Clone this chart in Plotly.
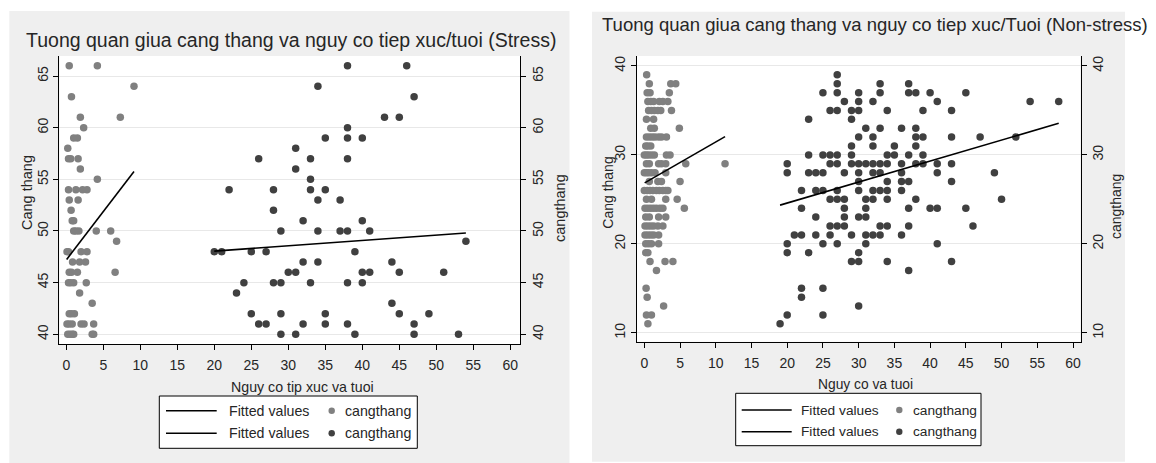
import plotly.graph_objects as go

W, H = 1156, 463

# ---------------- Stress panel ----------------
# y-levels (cangthang) and the exposure/age values observed at each level
stress_a_levels = [66, 64, 63, 61, 60, 59, 58, 57, 56, 55, 54, 53, 52, 51, 50,
                   49, 48, 47, 46, 45, 44, 43, 42, 41, 40]
stress_a_x = [[0.4, 4.2], [9.15], [0.7], [1.9, 7.3], [2.35], [1.0, 1.5], [0.2],
              [0.3, 0.6, 1.6], [1.9], [4.2], [0.3, 1.3, 2.2, 2.8], [0.4, 1.6],
              [0.65], [0.8, 1.0], [1.0, 1.3, 1.7, 4.05, 6.0], [6.8],
              [0.1, 0.3, 2.0, 2.8], [0.85, 1.8, 2.6], [0.4, 0.7, 1.5, 6.6],
              [0.3, 0.6, 1.0, 2.7], [1.8], [3.5], [0.4, 0.7, 1.1],
              [0.1, 0.4, 0.8, 2.0, 2.4, 3.7], [0.2, 0.5, 0.8, 1.0, 3.5, 3.7]]

stress_b_levels = [66, 64, 63, 61, 60, 59, 58, 57, 56, 55, 54, 53, 52, 51, 50,
                   49, 48, 47, 46, 45, 44, 43, 42, 41, 40]
stress_b_x = [[38, 46], [34], [47], [43, 45], [38], [35, 38, 40], [31],
              [26, 33, 38], [31], [33], [22, 28, 33, 35], [34, 37], [28],
              [32, 40], [29, 34, 37, 38, 41], [54], [20, 21, 25, 27, 39],
              [32, 34, 44], [30, 31, 40, 41, 45, 51], [24, 28, 29, 33, 38, 40],
              [23], [44], [25, 29, 35, 45, 49], [26, 27, 32, 35, 38, 47],
              [29, 31, 39, 47, 53]]

stress_a_fit_x = [0.05, 9.15]
stress_a_fit_y = [47.25, 55.75]
stress_b_fit_x = [20, 54]
stress_b_fit_y = [48.05, 49.8]

# ---------------- Non-stress panel ----------------
non_a_levels = [39, 38, 37, 36, 35, 34, 33, 32, 31, 30, 29, 28, 27, 26, 25, 24,
                23, 22, 21, 20, 19, 18, 17, 15, 14, 13, 12, 11]
non_a_x = [[0.33], [0.7, 3.7, 4.4], [0.4, 0.8, 3.5],
           [0.5, 0.9, 1.3, 2.1, 2.6, 3.3], [0.6, 1.0, 1.4, 1.9, 2.3, 3.8],
           [0.3, 1.3], [0.9, 1.4, 4.9], [0.3, 0.7, 1.1, 1.5, 2.0, 2.4, 3.1],
           [0.2, 0.5, 0.9], [0.0, 0.3, 0.6, 1.0, 1.4, 3.1, 3.6],
           [0.3, 0.7, 2.0, 2.4, 3.0, 5.8, 11.3], [0.0, 0.3, 0.6, 1.0, 1.5, 3.0],
           [0.7, 1.9, 2.4, 5.0], [0.0, 0.4, 0.8, 1.2, 1.7, 2.1, 2.6, 3.0, 3.3],
           [0.3, 1.0, 3.0, 4.6], [0.1, 0.5, 0.9, 1.3, 1.7, 2.2, 2.6, 5.6],
           [0.2, 0.7, 2.0, 3.0], [0.1, 0.5, 0.9, 1.3, 1.9, 2.6],
           [0.1, 0.5, 0.9, 1.3, 2.0], [0.2, 0.6, 1.0, 2.0], [0.2, 0.5],
           [0.8, 2.9, 4.0], [1.7], [0.25], [0.4], [2.7], [0.3, 1.0], [0.5]]

non_b_levels = [39, 38, 37, 36, 35, 34, 33, 32, 31, 30, 29, 28, 27, 26, 25, 24,
                23, 22, 21, 20, 19, 18, 17, 15, 14, 13, 12, 11]
non_b_x = [[27], [27, 33, 37], [25, 27, 30, 33, 37, 38, 40, 45],
           [28, 30, 32, 41, 54, 58], [26, 27, 29, 30, 34, 39, 43], [23, 29],
           [31, 33, 36, 38], [30, 32, 38, 39, 43, 47, 52], [29, 32, 35, 38],
           [23, 25, 26, 27, 29, 34, 35, 37, 39],
           [20, 26, 27, 29, 30, 31, 32, 33, 34, 36, 38, 39, 41, 43],
           [20, 23, 24, 25, 28, 30, 32, 33, 36, 41, 49], [30, 34, 36, 37, 43],
           [22, 24, 25, 27, 30, 32, 33, 34, 36],
           [26, 27, 28, 31, 32, 34, 38, 50], [22, 28, 31, 37, 40, 41, 45],
           [24, 28, 30, 31], [26, 27, 28, 33, 34, 37, 46],
           [21, 22, 24, 26, 29, 31, 32, 33, 36], [20, 25, 27, 31, 41],
           [20, 23, 30], [29, 30, 34, 43], [37], [22, 25], [22], [30],
           [20, 25], [19]]

non_a_fit_x = [0.05, 11.3]
non_a_fit_y = [26.85, 32.05]
non_b_fit_x = [19, 58]
non_b_fit_y = [24.35, 33.55]

x_ticks = list(range(0, 61, 5))
stress_y_ticks = [40, 45, 50, 55, 60, 65]
non_y_ticks = [10, 20, 30, 40]


def flatten(levels, xs):
    px, py = [], []
    for lv, row in zip(levels, xs):
        for v in row:
            px.append(v)
            py.append(lv)
    return px, py


def fx(p):
    return p / W


def fy(p):
    return 1 - p / H


FONT = "Liberation Sans, Arial, sans-serif"
LIGHT = "#808080"
DARK = "#404040"
TXT = "#262626"

fig = go.Figure()


def add_scatter(levels, xs, color, xa, ya):
    sx, sy = flatten(levels, xs)
    fig.add_trace(go.Scatter(x=sx, y=sy, mode="markers", xaxis=xa, yaxis=ya,
                             marker=dict(size=7.5, color=color, line=dict(width=0)),
                             showlegend=False, hoverinfo="x+y"))


def add_fit(fxs, fys, xa, ya):
    fig.add_trace(go.Scatter(x=fxs, y=fys, mode="lines", xaxis=xa, yaxis=ya,
                             line=dict(color="black", width=1.6),
                             showlegend=False, hoverinfo="skip"))


add_scatter(stress_a_levels, stress_a_x, LIGHT, "x", "y")
add_scatter(stress_b_levels, stress_b_x, DARK, "x", "y2")
add_fit(stress_a_fit_x, stress_a_fit_y, "x", "y")
add_fit(stress_b_fit_x, stress_b_fit_y, "x", "y2")

add_scatter(non_a_levels, non_a_x, LIGHT, "x2", "y3")
add_scatter(non_b_levels, non_b_x, DARK, "x2", "y4")
add_fit(non_a_fit_x, non_a_fit_y, "x2", "y3")
add_fit(non_b_fit_x, non_b_fit_y, "x2", "y4")

tickfont = dict(family=FONT, size=14, color=TXT)
common_x = dict(tickvals=x_ticks, ticks="outside", ticklen=5, tickcolor="black",
                showline=True, linecolor="black", linewidth=1, showgrid=False,
                zeroline=False, tickfont=tickfont, fixedrange=True,
                ticklabelstandoff=3)
common_y = dict(ticks="outside", ticklen=5, tickcolor="black", tickangle=-90,
                showline=True, linecolor="black", linewidth=1, zeroline=False,
                tickfont=tickfont, fixedrange=True)

L_left, L_right, L_top, L_bot = 59.4, 520.0, 56.0, 344.0
R_left, R_right, R_top, R_bot = 636.6, 1080.5, 56.0, 341.7

fig.update_layout(
    width=W, height=H,
    margin=dict(l=0, r=0, t=0, b=0),
    paper_bgcolor="white",
    plot_bgcolor="rgba(0,0,0,0)",
    xaxis=dict(domain=[fx(L_left), fx(L_right)], range=[-0.93, 61.31],
               anchor="y", **common_x),
    yaxis=dict(domain=[fy(L_bot), fy(L_top)], range=[39.06, 66.94], anchor="x",
               tickvals=stress_y_ticks, showgrid=True, gridcolor="#e8e8e8",
               gridwidth=1, **common_y),
    yaxis2=dict(overlaying="y", side="right", anchor="x", range=[39.06, 66.94],
                tickvals=stress_y_ticks, showgrid=False, **common_y),
    xaxis2=dict(domain=[fx(R_left), fx(R_right)], range=[-1.08, 61.05],
                anchor="y3", **common_x),
    yaxis3=dict(domain=[fy(R_bot), fy(R_top)], range=[8.99, 41.12], anchor="x2",
                tickvals=non_y_ticks, showgrid=True, gridcolor="#e8e8e8",
                gridwidth=1, **common_y),
    yaxis4=dict(overlaying="y3", side="right", anchor="x2", range=[8.99, 41.12],
                tickvals=non_y_ticks, showgrid=False, **common_y),
)

shapes = []
# panel backgrounds
shapes.append(dict(type="rect", xref="paper", yref="paper", layer="below",
                   x0=fx(9.3), x1=fx(569.5), y0=fy(463), y1=fy(11),
                   fillcolor="#efefef", line=dict(width=0)))
shapes.append(dict(type="rect", xref="paper", yref="paper", layer="below",
                   x0=fx(592), x1=fx(1125), y0=fy(461.7), y1=fy(11.7),
                   fillcolor="#efefef", line=dict(width=0)))
# plot regions
shapes.append(dict(type="rect", xref="paper", yref="paper", layer="below",
                   x0=fx(L_left), x1=fx(L_right), y0=fy(L_bot), y1=fy(L_top),
                   fillcolor="white", line=dict(width=0)))
shapes.append(dict(type="rect", xref="paper", yref="paper", layer="below",
                   x0=fx(R_left), x1=fx(R_right), y0=fy(R_bot), y1=fy(R_top),
                   fillcolor="white", line=dict(width=0)))

annotations = []


def text(t, x, y, size, angle=0, anchor="center"):
    annotations.append(dict(text=t, x=fx(x), y=fy(y), xref="paper", yref="paper",
                            xanchor=anchor, yanchor="middle", showarrow=False,
                            textangle=angle,
                            font=dict(family=FONT, size=size, color=TXT)))


def legend(box, rows, line_x, txt_x, mk_x, size):
    x0, y0, x1, y1 = box
    shapes.append(dict(type="rect", xref="paper", yref="paper",
                       x0=fx(x0), x1=fx(x1), y0=fy(y1), y1=fy(y0),
                       fillcolor="white", line=dict(color="black", width=1)))
    for ry, col in zip(rows, [LIGHT, DARK]):
        shapes.append(dict(type="line", xref="paper", yref="paper",
                           x0=fx(line_x[0]), x1=fx(line_x[1]), y0=fy(ry), y1=fy(ry),
                           line=dict(color="black", width=1.6)))
        shapes.append(dict(type="circle", xref="paper", yref="paper",
                           x0=fx(mk_x - 3.2), x1=fx(mk_x + 3.2),
                           y0=fy(ry + 3.2), y1=fy(ry - 3.2),
                           fillcolor=col, line=dict(width=0)))
        text("Fitted values", txt_x[0], ry, size, anchor="left")
        text("cangthang", txt_x[1], ry, size, anchor="left")


# titles
text("Tuong quan giua cang thang va nguy co tiep xuc/tuoi (Stress)", 291, 40, 19.5)
text("Tuong quan giua cang thang va nguy co tiep xuc/Tuoi (Non-stress)", 875, 25, 18.5)
# axis titles
text("Nguy co tip xuc va tuoi", 302, 387.3, 14.2)
text("Nguy co va tuoi", 865.5, 384, 13.8)
text("Cang thang", 26.5, 192.5, 14.5, angle=-90)
text("cangthang", 560, 208, 14.5, angle=-90)
text("Cang thang", 607.7, 193, 14, angle=-90)
text("cangthang", 1116, 207, 14, angle=-90)

legend((159.3, 396, 417.3, 448.3), [410.7, 433.3], (166, 216.7), (226.7, 343.3),
       331.7, 14.2)
legend((735.7, 393.3, 981, 445.7), [410, 431.7], (741.7, 791.7), (799.3, 910.7),
       899.3, 13.7)

fig.update_layout(shapes=shapes, annotations=annotations)

fig.write_html("out.html")
